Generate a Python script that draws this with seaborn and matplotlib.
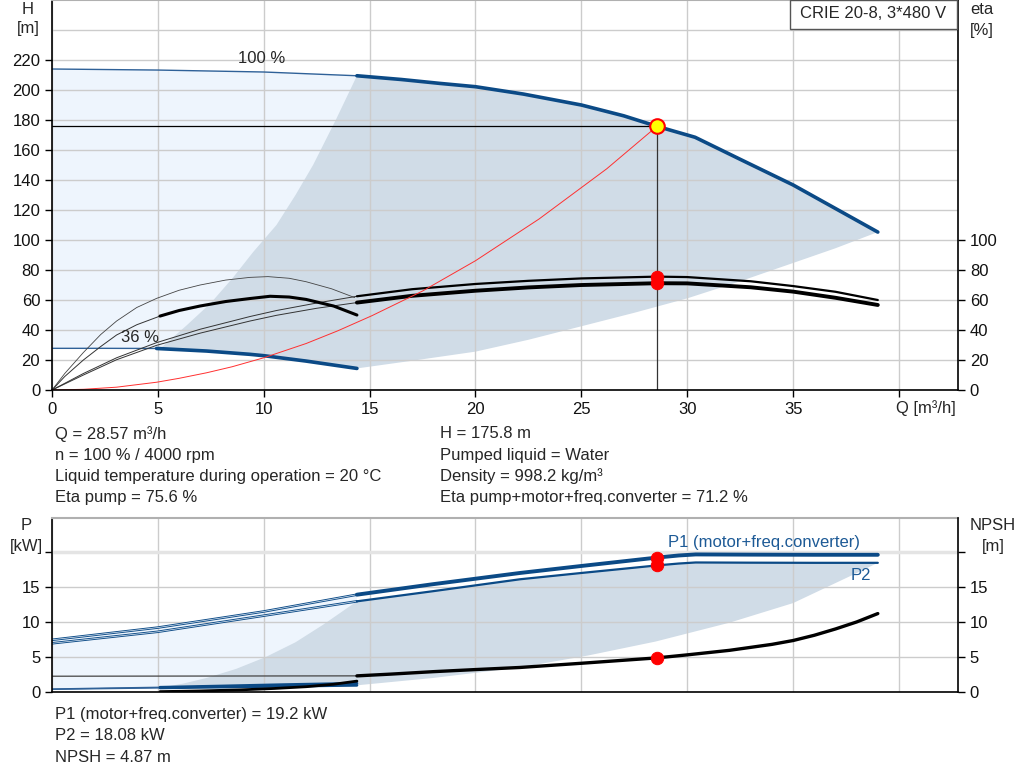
import numpy as np
import pandas as pd
import matplotlib
matplotlib.use('Agg')
import matplotlib.pyplot as plt
from matplotlib.patches import Rectangle
import seaborn as sns

# operating point
q_op = 28.57
h_op = 175.8
eta_pump_op = 75.6
eta_tot_op = 71.2
p1_op = 19.2
p2_op = 18.08
npsh_op = 4.87

# split points: thin line outside the allowed range, thick inside
q_split_full = 14.4
q_split_36 = 5.1

# head curves, 100 % and 36 % speed
q_full = [0, 5, 10, 14.4, 16.5, 18.32, 20, 22.26, 25, 27, 28.57, 30.37, 32.5, 35, 37, 39]
h_full = [214, 213.3, 212, 209.5, 207, 204.4, 202.2, 197.3, 190, 182.8, 175.8, 168.5, 153.8, 136.7, 121, 105.3]
q_36 = [0, 2.5, 4.94, 7.3, 9.35, 10, 12, 14.4]
h_36 = [27.8, 27.8, 27.7, 26, 23.8, 22.9, 19.3, 14.4]

# efficiency curves (right axis, same scale)
q_eta_full = [0, 1.48, 3.05, 4.94, 6.99, 9.35, 10.6, 12.5, 14.4, 17, 20, 22.5, 25, 28.57, 30, 33, 35, 37, 39]
eta_pump_full = [0, 11, 21.5, 31.6, 40.5, 49, 53, 58, 62.5, 67.2, 70.7, 72.8, 74.4, 75.6, 75.3, 72.5, 69.3, 65.5, 60]
eta_tot_full = [0, 10, 20.2, 29.8, 37.9, 46, 49.8, 54.5, 58.3, 62.8, 66.2, 68.4, 70, 71.2, 71.1, 68.5, 65.6, 61.5, 56.7]
q_eta_36 = [0, 0.6, 1.48, 2.3, 3.05, 4, 4.94, 6, 6.99, 8.2, 9.35, 10.2, 11.2, 12, 13.2, 14.3]
eta_pump_36 = [0, 11, 25, 37, 46, 55, 61.1, 66.5, 70, 73.3, 75.1, 75.6, 74.5, 72.2, 67.5, 61.6]
q_eta_tot_36 = [0, 0.6, 1.48, 2.3, 3.05, 4, 5.1, 6, 6.99, 8.2, 9.35, 10.3, 11.2, 12, 13.3, 14.4]
eta_tot_36 = [0, 9, 20, 29, 36.7, 43.5, 49.3, 53, 56, 59, 61, 62.5, 62, 60.4, 56, 50]

# system curve
q_sys = [0, 1.5, 3.05, 4.94, 6, 7.3, 8.5, 10, 12, 13.5, 15.1, 17.5, 20, 23, 26.2, 28.57]
h_sys = [0, 0.5, 1.9, 5.2, 7.8, 11.5, 15.5, 21.5, 31, 39.5, 49.5, 66, 86.2, 114, 147.5, 175.8]

# operating range limits (head)
q_minflow = [5.1, 6.35, 7.5, 8.55, 9.5, 10.6, 11.5, 12.33, 13.4, 14.4]
h_minflow = [27.5, 43, 58, 75, 92, 110, 130, 150, 180, 209.5]
q_maxflow = [14.4, 17, 20, 22.5, 25, 27.5, 30, 32.5, 35, 37, 39]
h_maxflow = [14.4, 19.5, 25.6, 33.5, 42.5, 51.5, 61.1, 72.5, 84.7, 94.5, 105.3]

# power curves
q_p_full = [0, 5, 10, 14.4, 18, 22.1, 25, 28.57, 29.6, 30.4, 33, 36, 39]
p1_full = [7.45, 9.2, 11.5, 13.9, 15.4, 17.0, 18.0, 19.2, 19.5, 19.65, 19.62, 19.6, 19.6]
p2_full = [6.95, 8.6, 10.9, 12.95, 14.4, 16.1, 17.0, 18.08, 18.35, 18.5, 18.47, 18.45, 18.45]
q_p_36 = [0, 2.5, 5.1, 8, 11, 14.4]
p1_36 = [0.42, 0.55, 0.67, 0.85, 1.05, 1.24]
p2_36 = [0.38, 0.48, 0.58, 0.7, 0.82, 0.95]

# NPSH curves
q_npsh_full = [0, 14.4, 16, 18, 20, 22.1, 25, 28.57, 30, 32, 34, 35, 36, 37, 38, 39]
npsh_full = [2.25, 2.3, 2.55, 2.9, 3.2, 3.5, 4.1, 4.87, 5.3, 5.95, 6.8, 7.35, 8.1, 9.0, 10.0, 11.2]
q_npsh_36 = [5.1, 7, 8.9, 10.5, 12.0, 13.3, 14.4]
npsh_36 = [0.05, 0.15, 0.3, 0.5, 0.75, 1.1, 1.55]

# operating range limits (power)
q_pmin = [5.1, 6.2, 7.3, 8.7, 10.1, 11.5, 12.8, 14.4]
p_pmin = [0.6, 1.2, 2.0, 3.3, 5.0, 7.1, 9.6, 12.95]
q_pmax = [14.4, 18, 22.1, 25.3, 28.5, 32, 35, 37.8, 39]
p_pmax = [0.95, 2.0, 3.5, 5.2, 7.2, 9.9, 12.7, 16.7, 18.45]

title = 'CRIE 20-8, 3*480 V'
info_left = ['Q = 28.57 m³/h', 'n = 100 % / 4000 rpm',
             'Liquid temperature during operation = 20 °C', 'Eta pump = 75.6 %']
info_right = ['H = 175.8 m', 'Pumped liquid = Water', 'Density = 998.2 kg/m³',
              'Eta pump+motor+freq.converter = 71.2 %']
info_bottom = ['P1 (motor+freq.converter) = 19.2 kW', 'P2 = 18.08 kW', 'NPSH = 4.87 m']

BLUE = '#0b4a86'
THINBLUE = '#2f6198'
LIGHT = '#eef5fd'
GRAY = '#d0dce7'
GRID = '#cccccc'
FS = 12

sns.set_theme(style='white')
plt.rcParams['font.family'] = ['Liberation Sans', 'DejaVu Sans']


def part(q, v, lo, hi):
    d = pd.DataFrame({'q': q, 'v': v})
    return d[(d.q >= lo - 1e-9) & (d.q <= hi + 1e-9)]


def curve(ax, q, v, lo, hi, **kw):
    d = part(q, v, lo, hi)
    sns.lineplot(data=d, x='q', y='v', ax=ax, estimator=None, sort=False, **kw)


def style_axes(ax, ymax, yticks, ylabels):
    ax.set_xlim(0, 42.79)
    ax.set_ylim(0, ymax)
    ax.set_xlabel('')
    ax.set_ylabel('')
    ax.set_yticks(yticks)
    ax.set_yticklabels(ylabels)
    ax.set_axisbelow(True)
    ax.grid(True, color=GRID, lw=1, zorder=0.5)
    for s in ['left', 'bottom']:
        ax.spines[s].set_color('black')
        ax.spines[s].set_linewidth(1.2)
    ax.spines['right'].set_visible(False)
    ax.spines['top'].set_color('#b0b0b0')
    ax.spines['top'].set_linewidth(1.5)
    ax.tick_params(axis='both', direction='out', length=5, width=1, colors='black',
                   labelsize=FS, labelcolor='#111111', left=True, bottom=True)


def right_axis(ax, ymax, yticks, ylabels):
    axr = ax.twinx()
    axr.set_ylim(0, ymax)
    axr.set_yticks(yticks)
    axr.set_yticklabels(ylabels)
    axr.grid(False)
    for s in ['left', 'top', 'bottom']:
        axr.spines[s].set_visible(False)
    axr.spines['right'].set_color('black')
    axr.spines['right'].set_linewidth(1.2)
    axr.tick_params(axis='y', direction='out', length=5, width=1, colors='black',
                    labelsize=FS, labelcolor='#111111', right=True)
    return axr


fig = plt.figure(figsize=(10.24, 7.81), dpi=100)
ax1 = fig.add_axes([0.0508, 0.5006, 0.8848, 0.4994])
ax2 = fig.add_axes([0.0508, 0.1140, 0.8848, 0.2228])

# ---------------- top chart: H and eta ----------------
hf = part(q_full, h_full, 0, 39)
h36 = part(q_36, h_36, 0, 14.4)
light_x = list(hf.q[hf.q <= q_split_full]) + list(h36.q[::-1])
light_y = list(hf.v[hf.q <= q_split_full]) + list(h36.v[::-1])
ax1.fill(light_x, light_y, color=LIGHT, lw=0, zorder=0.2)

top = hf[hf.q >= q_split_full]
low = h36[h36.q >= q_split_36]
gray_x = q_minflow + list(top.q) + q_maxflow[::-1] + list(low.q[::-1])
gray_y = h_minflow + list(top.v) + h_maxflow[::-1] + list(low.v[::-1])
ax1.fill(gray_x, gray_y, color=GRAY, lw=0, zorder=0.3)

# head curves
curve(ax1, q_full, h_full, 0, q_split_full, color=THINBLUE, lw=1.0)
curve(ax1, q_full, h_full, q_split_full, 39, color=BLUE, lw=2.6)
curve(ax1, q_36, h_36, 0, 5.2, color=THINBLUE, lw=1.0)
curve(ax1, q_36, h_36, 4.94, 14.4, color=BLUE, lw=2.6)

# efficiency curves
curve(ax1, q_eta_full, eta_pump_full, 0, q_split_full, color='#333333', lw=0.7)
curve(ax1, q_eta_full, eta_tot_full, 0, q_split_full, color='#333333', lw=0.7)
curve(ax1, q_eta_full, eta_pump_full, q_split_full, 39, color='black', lw=1.6)
curve(ax1, q_eta_full, eta_tot_full, q_split_full, 39, color='black', lw=2.8)
curve(ax1, q_eta_36, eta_pump_36, 0, 14.4, color='#444444', lw=0.6)
curve(ax1, q_eta_tot_36, eta_tot_36, 0, q_split_36, color='#333333', lw=0.7)
curve(ax1, q_eta_tot_36, eta_tot_36, q_split_36, 14.4, color='black', lw=2.2)

# system curve and operating point guides
curve(ax1, q_sys, h_sys, 0, q_op, color='#ff3030', lw=0.7)
ax1.plot([0, q_op], [h_op, h_op], color='black', lw=0.9, zorder=2)
ax1.plot([q_op, q_op], [0, h_op], color='#333333', lw=0.9, zorder=2)
sns.scatterplot(x=[q_op, q_op], y=[eta_pump_op, eta_tot_op], ax=ax1, s=80,
                color='#ff0000', edgecolor='#ff0000', zorder=5)
sns.scatterplot(x=[q_op], y=[h_op], ax=ax1, s=110, color='#ffff00',
                edgecolor='#ff0000', linewidth=1.5, zorder=6)

ax1.text(9.9, 221, '100 %', ha='center', va='center', fontsize=FS)
ax1.text(4.15, 34.7, '36 %', ha='center', va='center', fontsize=FS)

style_axes(ax1, 260, list(range(0, 221, 20)), [str(v) for v in range(0, 221, 20)])
ax1.axhline(240, color=GRID, lw=1, zorder=0.5)
ax1.set_xticks(list(range(0, 41, 5)))
ax1.set_xticklabels([str(v) for v in range(0, 36, 5)] + [''])
ax1.text(41.25, -12, 'Q [m³/h]', ha='center', va='center', fontsize=FS)
right_axis(ax1, 260, list(range(0, 101, 20)), [str(v) for v in range(0, 101, 20)])

# ---------------- bottom chart: P and NPSH ----------------
pf1 = part(q_p_full, p1_full, 0, 39)
pf2 = part(q_p_full, p2_full, 0, 39)
p36 = part(q_p_36, p2_36, 0, 14.4)
light_x = list(pf1.q[pf1.q <= q_split_full]) + list(p36.q[::-1])
light_y = list(pf1.v[pf1.q <= q_split_full]) + list(p36.v[::-1])
ax2.fill(light_x, light_y, color=LIGHT, lw=0, zorder=0.2)

top = pf2[pf2.q >= q_split_full]
low = p36[p36.q >= q_split_36]
gray_x = q_pmin + list(top.q) + q_pmax[::-1] + list(low.q[::-1])
gray_y = p_pmin + list(top.v) + p_pmax[::-1] + list(low.v[::-1])
ax2.fill(gray_x, gray_y, color=GRAY, lw=0, zorder=0.3)

for pv in [p1_full, p2_full]:
    curve(ax2, q_p_full, pv, 0, q_split_full, color=BLUE, lw=1.8)
    curve(ax2, q_p_full, pv, 0, q_split_full, color='#e4edf7', lw=0.5)
curve(ax2, q_p_full, p1_full, q_split_full, 39, color=BLUE, lw=2.8)
curve(ax2, q_p_full, p2_full, q_split_full, 39, color=BLUE, lw=1.6)
for pv in [p1_36, p2_36]:
    curve(ax2, q_p_36, pv, 0, q_split_36, color=THINBLUE, lw=1.0)
    curve(ax2, q_p_36, pv, q_split_36, 14.4, color=BLUE, lw=2.0)

curve(ax2, q_npsh_full, npsh_full, 0, q_split_full, color='#444444', lw=0.9)
curve(ax2, q_npsh_full, npsh_full, q_split_full, 39, color='black', lw=2.4)
curve(ax2, q_npsh_36, npsh_36, q_split_36, 14.4, color='black', lw=2.0)

sns.scatterplot(x=[q_op, q_op, q_op], y=[p1_op, p2_op, npsh_op], ax=ax2, s=80,
                color='#ff0000', edgecolor='#ff0000', zorder=5)

ax2.text(29.1, 21.3, 'P1 (motor+freq.converter)', ha='left', va='center',
         fontsize=FS, color='#1d5a96')
ax2.text(38.2, 16.7, 'P2', ha='center', va='center', fontsize=FS, color='#1d5a96')

style_axes(ax2, 24.86, [0, 5, 10, 15, 20], ['0', '5', '10', '15', ''])
ax2.set_xticks(list(range(0, 41, 5)))
ax2.set_xticklabels([])
ax2.tick_params(axis='x', length=0)
ax2.axhline(20, color='#e4e4e4', lw=2.5, zorder=0.6)
right_axis(ax2, 24.86, [0, 5, 10, 15, 20], ['0', '5', '10', '15', ''])

# ---------------- axis titles, box and texts ----------------
fig.text(28 / 1024, 1 - 9 / 781, 'H', ha='center', va='center', fontsize=FS)
fig.text(28 / 1024, 1 - 29 / 781, '[m]', ha='center', va='center', fontsize=FS)
fig.text(982 / 1024, 1 - 10 / 781, 'eta', ha='center', va='center', fontsize=FS)
fig.text(982 / 1024, 1 - 30 / 781, '[%]', ha='center', va='center', fontsize=FS)
fig.text(26 / 1024, 1 - 526 / 781, 'P', ha='center', va='center', fontsize=FS)
fig.text(26 / 1024, 1 - 547 / 781, '[kW]', ha='center', va='center', fontsize=FS)
fig.text(993 / 1024, 1 - 526 / 781, 'NPSH', ha='center', va='center', fontsize=FS)
fig.text(993 / 1024, 1 - 547 / 781, '[m]', ha='center', va='center', fontsize=FS)

fig.patches.append(Rectangle((790 / 1024, 1 - 29 / 781), 167 / 1024, 29 / 781,
                             transform=fig.transFigure, fc='white', ec='#555555',
                             lw=1, zorder=10))
fig.text(873 / 1024, 1 - 14 / 781, title, ha='center', va='center', fontsize=FS, zorder=11)

for i, t in enumerate(info_left):
    fig.text(55 / 1024, 1 - (434 + 21.2 * i) / 781, t, ha='left', va='center', fontsize=FS)
for i, t in enumerate(info_right):
    fig.text(440 / 1024, 1 - (434 + 21.2 * i) / 781, t, ha='left', va='center', fontsize=FS)
for i, t in enumerate(info_bottom):
    fig.text(55 / 1024, 1 - (715 + 21 * i) / 781, t, ha='left', va='center', fontsize=FS)

fig.savefig('out.png', dpi=100, facecolor='white')
